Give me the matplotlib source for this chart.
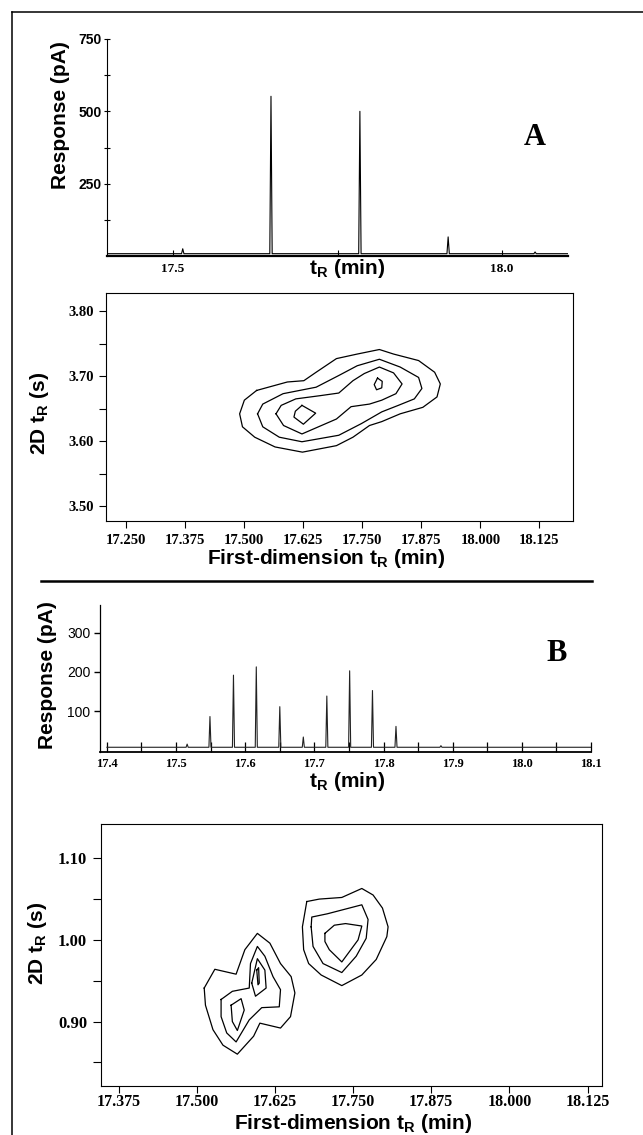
import matplotlib.pyplot as plt
from matplotlib.lines import Line2D

plt.switch_backend("agg")

SANS = "Liberation Sans"
SERIF = "Liberation Serif"

# ---- panel A, 1D chromatogram
a_peak_t = [17.515, 17.649, 17.784, 17.918, 18.05]
a_peak_h = [25, 552, 500, 66, 14]
a_base = 8
a_yticks = [250, 500, 750]
a_yminor = [125, 375, 625]
a_xticks = [17.5, 18.0]
a_xminor = [17.75]

# ---- panel A, contour (first-dim min, 2D s)
a_out_x = [17.526, 17.591, 17.626, 17.652, 17.695, 17.739, 17.786, 17.816, 17.869, 17.903,
           17.915, 17.908, 17.878, 17.830, 17.791, 17.765, 17.730, 17.695, 17.623, 17.565,
           17.522, 17.496, 17.490, 17.500, 17.526]
a_out_y = [3.678, 3.691, 3.693, 3.706, 3.727, 3.734, 3.741, 3.734, 3.724, 3.706,
           3.688, 3.668, 3.652, 3.642, 3.630, 3.624, 3.606, 3.593, 3.583, 3.591,
           3.606, 3.622, 3.642, 3.663, 3.678]
a_mid_x = [17.528, 17.539, 17.582, 17.652, 17.700, 17.739, 17.786, 17.830, 17.869, 17.876,
           17.860, 17.826, 17.791, 17.748, 17.700, 17.622, 17.574, 17.539, 17.528]
a_mid_y = [3.642, 3.657, 3.673, 3.683, 3.701, 3.716, 3.726, 3.714, 3.698, 3.681,
           3.665, 3.655, 3.645, 3.627, 3.609, 3.599, 3.606, 3.622, 3.642]
a_in_x = [17.567, 17.578, 17.609, 17.661, 17.700, 17.730, 17.754, 17.786, 17.816, 17.834,
          17.821, 17.791, 17.765, 17.726, 17.695, 17.622, 17.583, 17.567]
a_in_y = [3.642, 3.655, 3.665, 3.670, 3.674, 3.693, 3.704, 3.714, 3.705, 3.688,
          3.673, 3.663, 3.657, 3.653, 3.634, 3.611, 3.624, 3.642]
a_pk1_x = [17.622, 17.651, 17.625, 17.605, 17.608, 17.622]
a_pk1_y = [3.655, 3.643, 3.626, 3.637, 3.646, 3.655]
a_pk2_x = [17.782, 17.792, 17.791, 17.780, 17.775, 17.782]
a_pk2_y = [3.697, 3.692, 3.682, 3.679, 3.687, 3.697]
a_c_xticks = [17.250, 17.375, 17.500, 17.625, 17.750, 17.875, 18.000, 18.125]
a_c_yticks = [3.50, 3.60, 3.70, 3.80]
a_c_yminor = [3.55, 3.65, 3.75]

# ---- panel B, 1D chromatogram
b_peak_t = [17.516, 17.549, 17.583, 17.616, 17.650, 17.684, 17.718, 17.751, 17.784, 17.818, 17.883]
b_peak_h = [17, 87, 192, 213, 112, 35, 139, 203, 153, 62, 13]
b_base = 9
b_yticks = [100, 200, 300]
b_xticks = [17.4, 17.5, 17.6, 17.7, 17.8, 17.9, 18.0, 18.1]
b_xminor = [17.45, 17.55, 17.65, 17.75, 17.85, 17.95, 18.05]

# ---- panel B, contour
b_r1_x = [17.676, 17.696, 17.732, 17.764, 17.782, 17.797, 17.806, 17.804, 17.787, 17.764,
          17.732, 17.699, 17.679, 17.671, 17.669, 17.676]
b_r1_y = [1.047, 1.050, 1.052, 1.063, 1.055, 1.039, 1.016, 1.004, 0.976, 0.957,
          0.944, 0.957, 0.971, 0.988, 1.016, 1.047]
b_r2_x = [17.683, 17.684, 17.709, 17.764, 17.774, 17.771, 17.755, 17.732, 17.702, 17.686, 17.683]
b_r2_y = [1.016, 1.028, 1.032, 1.043, 1.025, 1.002, 0.980, 0.960, 0.971, 0.992, 1.016]
b_r3_x = [17.705, 17.720, 17.738, 17.764, 17.758, 17.732, 17.712, 17.705, 17.705]
b_r3_y = [1.008, 1.018, 1.020, 1.017, 1.000, 0.973, 0.988, 0.998, 1.008]
b_l1_x = [17.512, 17.529, 17.563, 17.577, 17.597, 17.617, 17.634, 17.651, 17.657, 17.650,
          17.634, 17.601, 17.591, 17.565, 17.542, 17.526, 17.514, 17.512]
b_l1_y = [0.941, 0.964, 0.958, 0.988, 1.008, 0.996, 0.971, 0.955, 0.935, 0.906,
          0.892, 0.898, 0.882, 0.860, 0.871, 0.890, 0.920, 0.941]
b_l2_x = [17.539, 17.557, 17.584, 17.586, 17.597, 17.609, 17.622, 17.634, 17.632, 17.604,
          17.584, 17.563, 17.548, 17.539, 17.539]
b_l2_y = [0.927, 0.937, 0.941, 0.971, 0.992, 0.980, 0.955, 0.939, 0.918, 0.917,
          0.902, 0.875, 0.886, 0.906, 0.927]
b_l3_x = [17.588, 17.597, 17.609, 17.611, 17.594, 17.588]
b_l3_y = [0.947, 0.977, 0.963, 0.941, 0.931, 0.947]
b_l4_x = [17.596, 17.599, 17.600, 17.598, 17.596]
b_l4_y = [0.963, 0.966, 0.947, 0.945, 0.963]
b_l5_x = [17.555, 17.571, 17.576, 17.565, 17.557, 17.555]
b_l5_y = [0.920, 0.928, 0.914, 0.889, 0.900, 0.920]
b_c_xticks = [17.375, 17.500, 17.625, 17.750, 17.875, 18.000, 18.125]
b_c_yticks = [0.90, 1.00, 1.10]
b_c_yminor = [0.85, 0.95, 1.05]


def trace(t, h, base, w, lo, hi):
    xs, ys = [lo], [base]
    for ti, hv in zip(t, h):
        xs += [ti - w, ti, ti + w]
        ys += [base, hv, base]
    xs.append(hi)
    ys.append(base)
    return xs, ys


def serif_ticks(ax, axis, size):
    labels = ax.get_xticklabels() if axis == "x" else ax.get_yticklabels()
    for lab in labels:
        lab.set_fontfamily(SERIF)
        lab.set_fontweight("bold")
        lab.set_fontsize(size)


fig = plt.figure(figsize=(6.43, 11.35), dpi=100)
lab_kw = dict(fontfamily=SANS, fontweight="bold", fontsize=15)

# ================= A chromatogram
ax1 = fig.add_axes([107 / 643, 1 - 256 / 1135, 461 / 643, 217 / 1135])
xs, ys = trace(a_peak_t, a_peak_h, a_base, 0.0018, 17.40, 18.10)
ax1.plot(xs, ys, color="black", lw=0.8)
ax1.set_xlim(17.40, 18.10)
ax1.set_ylim(0, 750)
for s in ["top", "right"]:
    ax1.spines[s].set_visible(False)
ax1.spines["bottom"].set_linewidth(1.6)
ax1.spines["left"].set_linewidth(0.8)
ax1.set_yticks(a_yticks)
ax1.set_yticks(a_yminor, minor=True)
ax1.set_yticklabels([str(v) for v in a_yticks], fontfamily=SANS, fontweight="bold", fontsize=10)
ax1.tick_params(axis="y", which="both", direction="inout", length=4, width=0.8, pad=2)
ax1.set_xticks(a_xticks)
ax1.set_xticks(a_xminor, minor=True)
ax1.set_xticklabels(["17.5", "18.0"])
serif_ticks(ax1, "x", 9.5)
ax1.tick_params(axis="x", which="both", direction="in", length=4, width=0.8, pad=5)
ax1.set_ylabel("Response (pA)", **lab_kw)
ax1.yaxis.set_label_coords(-0.08, 0.65)
ax1.set_xlabel(r"t$_\mathregular{R}$ (min)", **lab_kw)
ax1.xaxis.set_label_coords(0.52, -0.005)
ax1.text(0.928, 0.544, "A", transform=ax1.transAxes, fontfamily=SERIF, fontweight="bold",
         fontsize=22, ha="center", va="center")

# ================= A contour
ax2 = fig.add_axes([106 / 643, 1 - 521 / 1135, 467 / 643, 228 / 1135])
for cx, cy in [(a_out_x, a_out_y), (a_mid_x, a_mid_y), (a_in_x, a_in_y),
               (a_pk1_x, a_pk1_y), (a_pk2_x, a_pk2_y)]:
    ax2.plot(cx, cy, color="black", lw=0.9)
ax2.set_xlim(17.207, 18.196)
ax2.set_ylim(3.477, 3.828)
ax2.set_xticks(a_c_xticks)
ax2.set_xticklabels(["%.3f" % v for v in a_c_xticks])
ax2.set_yticks(a_c_yticks)
ax2.set_yticks(a_c_yminor, minor=True)
ax2.set_yticklabels(["%.2f" % v for v in a_c_yticks])
serif_ticks(ax2, "x", 10.5)
serif_ticks(ax2, "y", 10.5)
ax2.tick_params(which="both", direction="out", length=5, width=0.8, pad=4)
for s in ax2.spines.values():
    s.set_linewidth(0.8)
ax2.set_ylabel(r"2D t$_\mathregular{R}$ (s)", **lab_kw)
ax2.yaxis.set_label_coords(-0.118, 0.474)
ax2.set_xlabel(r"First-dimension t$_\mathregular{R}$ (min)", **lab_kw)
ax2.xaxis.set_label_coords(0.471, -0.115)

# ================= B chromatogram
ax3 = fig.add_axes([100 / 643, 1 - 752 / 1135, 491 / 643, 147 / 1135])
xs, ys = trace(b_peak_t, b_peak_h, b_base, 0.0015, 17.40, 18.10)
ax3.plot(xs, ys, color="#222222", lw=0.8)
ax3.set_xlim(17.39, 18.10)
ax3.set_ylim(-3, 370)
for s in ["top", "right"]:
    ax3.spines[s].set_visible(False)
ax3.spines["bottom"].set_linewidth(1.3)
ax3.spines["left"].set_linewidth(0.9)
ax3.set_yticks(b_yticks)
ax3.set_yticklabels([str(v) for v in b_yticks], fontfamily=SANS, fontsize=10)
ax3.tick_params(axis="y", direction="out", length=4, width=1.0, pad=3)
ax3.set_xticks(b_xticks)
ax3.set_xticks(b_xminor, minor=True)
ax3.set_xticklabels(["%.1f" % v for v in b_xticks])
serif_ticks(ax3, "x", 9)
ax3.tick_params(axis="x", which="both", direction="in", length=7, width=0.9, pad=4)
ax3.set_ylabel("Response (pA)", **lab_kw)
ax3.yaxis.set_label_coords(-0.088, 0.524)
ax3.set_xlabel(r"t$_\mathregular{R}$ (min)", **lab_kw)
ax3.xaxis.set_label_coords(0.503, -0.12)
ax3.text(0.931, 0.673, "B", transform=ax3.transAxes, fontfamily=SERIF, fontweight="bold",
         fontsize=22, ha="center", va="center")

# ================= B contour
ax4 = fig.add_axes([101 / 643, 1 - 1086 / 1135, 501 / 643, 262 / 1135])
for cx, cy in [(b_r1_x, b_r1_y), (b_r2_x, b_r2_y), (b_r3_x, b_r3_y), (b_l1_x, b_l1_y),
               (b_l2_x, b_l2_y), (b_l3_x, b_l3_y), (b_l4_x, b_l4_y), (b_l5_x, b_l5_y)]:
    ax4.plot(cx, cy, color="black", lw=0.9)
ax4.set_xlim(17.347, 18.148)
ax4.set_ylim(0.821, 1.142)
ax4.set_xticks(b_c_xticks)
ax4.set_xticklabels(["%.3f" % v for v in b_c_xticks])
ax4.set_yticks(b_c_yticks)
ax4.set_yticks(b_c_yminor, minor=True)
ax4.set_yticklabels(["%.2f" % v for v in b_c_yticks])
serif_ticks(ax4, "x", 11.5)
serif_ticks(ax4, "y", 12)
ax4.tick_params(which="both", direction="out", length=6, width=0.8, pad=4)
ax4.tick_params(axis="x", length=5, pad=0.5)
for s in ax4.spines.values():
    s.set_linewidth(0.8)
ax4.set_ylabel(r"2D t$_\mathregular{R}$ (s)", **lab_kw)
ax4.yaxis.set_label_coords(-0.104, 0.546)
ax4.set_xlabel(r"First-dimension t$_\mathregular{R}$ (min)", **lab_kw)
ax4.xaxis.set_label_coords(0.503, -0.1)

# frame and separator
fig.add_artist(Line2D([12 / 643, 1.0], [1 - 12 / 1135] * 2, color="black", lw=1.1))
fig.add_artist(Line2D([12 / 643] * 2, [0.0, 1 - 12 / 1135], color="black", lw=1.1))
fig.add_artist(Line2D([41 / 643, 592 / 643], [1 - 581 / 1135] * 2, color="black", lw=1.8))

fig.savefig("out.png", dpi=100)
